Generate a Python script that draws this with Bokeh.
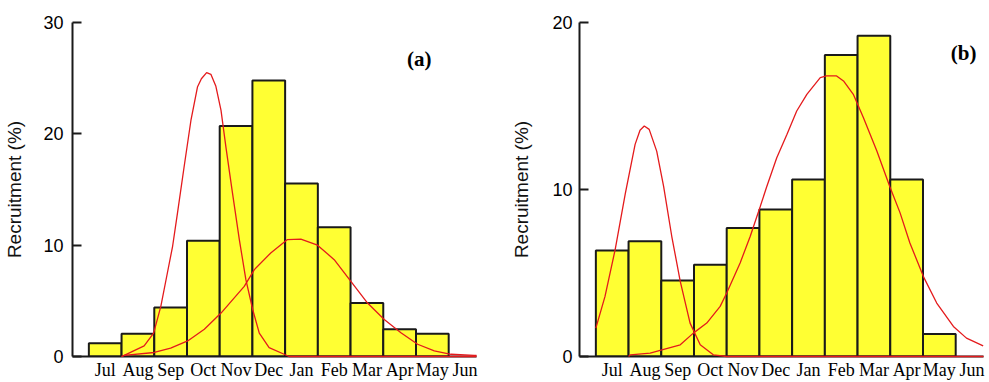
from bokeh.plotting import figure
from bokeh.layouts import row
from bokeh.models import Range1d, FixedTicker, Label
from bokeh.embed import file_html
from bokeh.resources import INLINE

months = ["Jul", "Aug", "Sep", "Oct", "Nov", "Dec", "Jan", "Feb", "Mar", "Apr", "May", "Jun"]

# Panel (a) recruitment (%) per month (Jul..May)
a_recruit = [1.2, 2.05, 4.4, 10.4, 20.7, 24.8, 15.55, 11.6, 4.8, 2.45, 2.05]
# Panel (b)
b_recruit = [6.35, 6.9, 4.55, 5.5, 7.7, 8.8, 10.6, 18.05, 19.2, 10.6, 1.35]

# Fitted curves (month index units)
a_c1_x = [0.5, 0.58, 1.19, 1.48, 1.70, 1.90, 2.06, 2.21, 2.41, 2.62, 2.82, 2.94, 3.10, 3.23,
          3.38, 3.54, 3.69, 3.89, 4.10, 4.30, 4.51, 4.71, 5.01, 5.47, 5.62, 11.35]
a_c1_y = [0.0, 0.1, 0.95, 2.1, 4.5, 7.5, 9.9, 12.9, 17.0, 21.2, 24.2, 24.95, 25.5, 25.35,
          24.3, 22.1, 18.8, 14.7, 10.5, 6.9, 4.2, 2.1, 0.8, 0.2, 0.0, 0.0]
a_c2_x = [0.5, 0.58, 1.5, 2.0, 2.52, 3.03, 3.54, 4.25, 4.56, 5.06, 5.57, 5.98, 6.49, 7.0,
          7.51, 8.02, 8.53, 9.04, 9.55, 10.06, 10.57, 11.28, 11.35]
a_c2_y = [0.0, 0.1, 0.36, 0.75, 1.4, 2.45, 3.9, 6.3, 7.8, 9.3, 10.5, 10.55, 10.0, 8.7,
          6.75, 4.8, 3.33, 2.14, 1.1, 0.5, 0.2, 0.1, 0.1]
b_c1_x = [-0.5, -0.22, 0.09, 0.40, 0.70, 0.85, 0.98, 1.13, 1.36, 1.57, 1.82, 2.08, 2.38,
          2.69, 3.09, 3.5, 11.35]
b_c1_y = [1.7, 3.6, 6.4, 9.75, 12.7, 13.55, 13.8, 13.6, 12.3, 10.2, 7.2, 4.5, 2.0,
          0.7, 0.1, 0.0, 0.0]
b_c2_x = [0.5, 0.55, 1.16, 1.52, 2.08, 2.48, 2.89, 3.30, 3.5, 3.91, 4.22, 4.52, 4.72, 5.03,
          5.34, 5.64, 5.95, 6.36, 6.55, 6.86, 7.07, 7.37, 7.68, 8.09, 8.49, 8.8, 9.1,
          9.51, 9.92, 10.43, 10.83, 11.34]
b_c2_y = [0.0, 0.1, 0.2, 0.4, 0.7, 1.4, 2.0, 3.0, 3.8, 5.6, 7.2, 8.95, 10.15, 11.9,
          13.3, 14.7, 15.7, 16.7, 16.8, 16.8, 16.5, 15.7, 14.3, 12.3, 10.15, 8.6, 6.8,
          4.8, 3.2, 1.8, 1.1, 0.64]

a_yticks = [0, 10, 20, 30]
b_yticks = [0, 10, 20]

YELLOW = "#FFFF33"
RED = "#E41A1C"
AXIS = "#1a1a1a"


def panel(values, c1x, c1y, c2x, c2y, ymax, yticks, tag, tag_x, tag_y,
          width, left, right, tick_standoff, label_standoff):
    p = figure(width=width, height=382, x_range=Range1d(-1, 11.35), y_range=Range1d(0, ymax),
               output_backend="svg", toolbar_location=None,
               min_border_left=left, min_border_right=right,
               min_border_top=22, min_border_bottom=25)
    p.outline_line_color = None
    p.xgrid.visible = False
    p.ygrid.visible = False
    p.background_fill_color = "white"
    p.border_fill_color = "white"

    p.vbar(x=list(range(len(values))), top=values, bottom=0, width=1.0,
           fill_color=YELLOW, line_color=AXIS, line_width=2)
    r1 = p.line(c1x, c1y, line_color=RED, line_width=1.3)
    r2 = p.line(c2x, c2y, line_color=RED, line_width=1.3)
    r1.level = "overlay"
    r2.level = "overlay"

    xa = p.xaxis[0]
    xa.ticker = FixedTicker(ticks=list(range(len(months))))
    xa.major_label_overrides = {i: m for i, m in enumerate(months)}
    xa.major_tick_in = 0
    xa.major_tick_out = 0
    xa.minor_tick_line_color = None
    xa.axis_line_width = 2
    xa.axis_line_color = AXIS
    xa.major_label_text_font = "Liberation Serif"
    xa.major_label_text_font_size = "18px"
    xa.major_label_text_color = "black"
    xa.major_label_standoff = 3

    ya = p.yaxis[0]
    ya.ticker = FixedTicker(ticks=yticks)
    ya.major_tick_in = 9
    ya.major_tick_out = 0
    ya.major_tick_line_width = 2
    ya.major_tick_line_color = AXIS
    ya.minor_tick_line_color = None
    ya.axis_line_width = 2
    ya.axis_line_color = AXIS
    ya.major_label_text_font = "Liberation Sans"
    ya.major_label_text_font_size = "18px"
    ya.major_label_text_color = "black"
    ya.major_label_standoff = tick_standoff
    ya.axis_label = "Recruitment (%)"
    ya.axis_label_text_font = "Liberation Sans"
    ya.axis_label_text_font_size = "19px"
    ya.axis_label_text_font_style = "normal"
    ya.axis_label_text_color = "#111111"
    ya.axis_label_standoff = label_standoff

    p.add_layout(Label(x=tag_x, y=tag_y, text=tag, text_font="Liberation Serif",
                       text_font_style="bold", text_font_size="21px",
                       text_align="center", text_baseline="middle", text_color="black"))
    return p


pa = panel(a_recruit, a_c1_x, a_c1_y, a_c2_x, a_c2_y, 30, a_yticks, "(a)", 9.6, 26.7,
           494, 72, 18, 9, 15)
pb = panel(b_recruit, b_c1_x, b_c1_y, b_c2_x, b_c2_y, 20, b_yticks, "(b)", 10.74, 18.16,
           495, 85, 6, 7, 17)

layout = row(pa, pb)
open("out.html", "w").write(file_html(layout, INLINE))
